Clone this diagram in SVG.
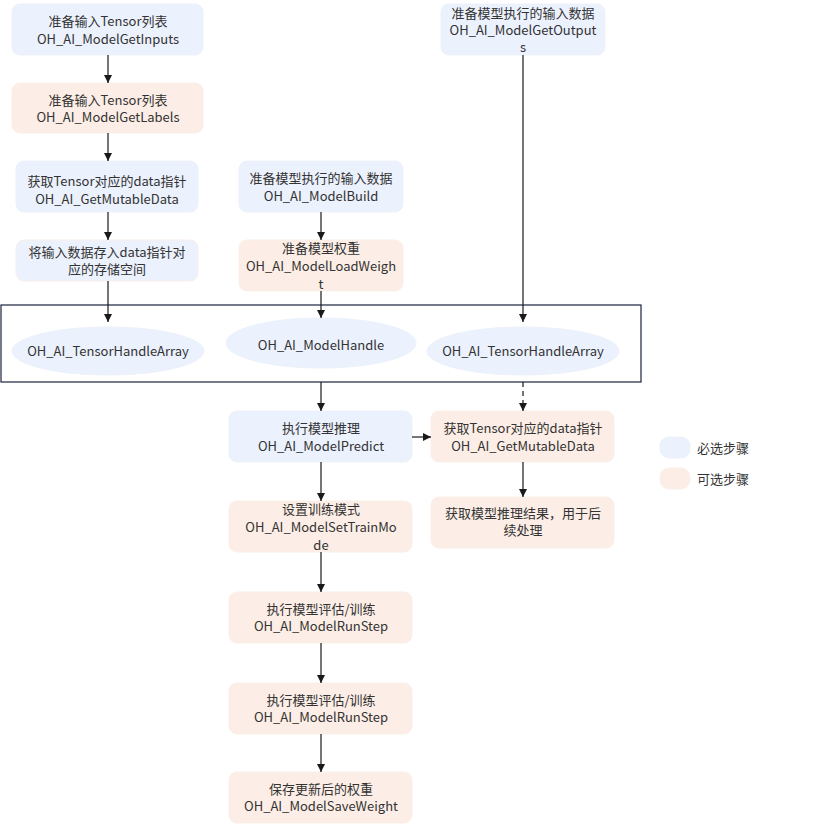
<svg xmlns="http://www.w3.org/2000/svg" width="816" height="824" viewBox="0 0 816 824">
<defs>
<marker id="ah" viewBox="0 0 10 10" refX="10" refY="5" markerWidth="8" markerHeight="8" markerUnits="userSpaceOnUse" orient="auto">
<path d="M0,0 L10,5 L0,10 z" fill="#1a1a1a"/>
</marker>
<style>
.req{fill:#EBF1FD;stroke:#EDF1FA;stroke-width:1}
.opt{fill:#FCEEE6;stroke:#FBEFE8;stroke-width:1}
.t{font-family:"Noto Sans CJK SC","Noto Sans",sans-serif;font-size:13px;fill:#333;text-anchor:middle}
.lt{font-family:"Noto Sans CJK SC","Noto Sans",sans-serif;font-size:13px;fill:#333}
.c{stroke:#1a1a1a;stroke-width:1.2;fill:none}
</style>
</defs>
<rect width="816" height="824" fill="#fff"/>
<g id="container"><rect x="1" y="305" width="640" height="77" fill="none" stroke="#1c2340" stroke-width="1.2"/></g>
<g id="n1"><rect class="req" x="12" y="4" width="191" height="51" rx="8"/><text class="t" x="108" y="26">准备输入Tensor列表</text><text class="t" x="108" y="44">OH_AI_ModelGetInputs</text></g>
<g id="n2"><rect class="opt" x="12" y="83" width="191" height="50" rx="8"/><text class="t" x="108" y="105">准备输入Tensor列表</text><text class="t" x="108" y="122">OH_AI_ModelGetLabels</text></g>
<g id="n3"><rect class="req" x="16" y="161" width="182" height="51" rx="8"/><text class="t" x="107" y="186">获取Tensor对应的data指针</text><text class="t" x="107" y="204">OH_AI_GetMutableData</text></g>
<g id="n4"><rect class="req" x="16" y="240" width="182" height="41" rx="8" style="stroke:#FBEFE8"/><text class="t" x="107" y="257">将输入数据存入data指针对</text><text class="t" x="107" y="274">应的存储空间</text></g>
<g id="n5"><rect class="req" x="239" y="161" width="164" height="51" rx="8"/><text class="t" x="321" y="183">准备模型执行的输入数据</text><text class="t" x="321" y="201">OH_AI_ModelBuild</text></g>
<g id="n6"><rect class="opt" x="239" y="240" width="164" height="51" rx="8"/><text class="t" x="321" y="253">准备模型权重</text><text class="t" x="321" y="271">OH_AI_ModelLoadWeigh</text><text class="t" x="321" y="289">t</text></g>
<g id="n7"><rect class="req" x="441" y="4" width="164" height="51" rx="8"/><text class="t" x="523" y="18">准备模型执行的输入数据</text><text class="t" x="523" y="35">OH_AI_ModelGetOutput</text><text class="t" x="523" y="52">s</text></g>
<g id="e1"><ellipse class="req" cx="108" cy="351" rx="96" ry="24"/><text class="t" x="108" y="356">OH_AI_TensorHandleArray</text></g>
<g id="e2"><ellipse class="req" cx="321" cy="343" rx="95" ry="25"/><text class="t" x="321" y="350">OH_AI_ModelHandle</text></g>
<g id="e3"><ellipse class="req" cx="523" cy="351" rx="96" ry="24"/><text class="t" x="523" y="356">OH_AI_TensorHandleArray</text></g>
<g id="n8"><rect class="req" x="229" y="411" width="183" height="51" rx="8"/><text class="t" x="321" y="433">执行模型推理</text><text class="t" x="321" y="451">OH_AI_ModelPredict</text></g>
<g id="n9"><rect class="opt" x="431" y="411" width="183" height="51" rx="8"/><text class="t" x="523" y="433">获取Tensor对应的data指针</text><text class="t" x="523" y="451">OH_AI_GetMutableData</text></g>
<g id="n10"><rect class="opt" x="431" y="497" width="183" height="51" rx="8"/><text class="t" x="523" y="518">获取模型推理结果，用于后</text><text class="t" x="523" y="535">续处理</text></g>
<g id="n11"><rect class="opt" x="229" y="501" width="183" height="51" rx="8"/><text class="t" x="321" y="514">设置训练模式</text><text class="t" x="321" y="532">OH_AI_ModelSetTrainMo</text><text class="t" x="321" y="550">de</text></g>
<g id="n12"><rect class="opt" x="229" y="592" width="183" height="51" rx="8"/><text class="t" x="321" y="614">执行模型评估/训练</text><text class="t" x="321" y="631">OH_AI_ModelRunStep</text></g>
<g id="n13"><rect class="opt" x="229" y="683" width="183" height="51" rx="8"/><text class="t" x="321" y="705">执行模型评估/训练</text><text class="t" x="321" y="722">OH_AI_ModelRunStep</text></g>
<g id="n14"><rect class="opt" x="229" y="772" width="183" height="51" rx="8"/><text class="t" x="321" y="794">保存更新后的权重</text><text class="t" x="321" y="811">OH_AI_ModelSaveWeight</text></g>
<g id="legend">
<rect class="req" x="660" y="437" width="30" height="21" rx="9"/><text class="lt" x="697" y="453">必选步骤</text>
<rect class="opt" x="660" y="468" width="30" height="21" rx="9"/><text class="lt" x="697" y="484">可选步骤</text>
</g>
<g id="connectors">
<line class="c" x1="108" y1="55" x2="108" y2="83" marker-end="url(#ah)"/>
<line class="c" x1="108" y1="133" x2="108" y2="161" marker-end="url(#ah)"/>
<line class="c" x1="108" y1="212" x2="108" y2="240" marker-end="url(#ah)"/>
<line class="c" x1="108" y1="281" x2="108" y2="322" marker-end="url(#ah)"/>
<line class="c" x1="321" y1="212" x2="321" y2="240" marker-end="url(#ah)"/>
<line class="c" x1="321" y1="291" x2="321" y2="318" marker-end="url(#ah)"/>
<line class="c" x1="523" y1="55" x2="523" y2="322" marker-end="url(#ah)"/>
<line class="c" x1="321" y1="382" x2="321" y2="411" marker-end="url(#ah)"/>
<line class="c" x1="523" y1="382" x2="523" y2="411" stroke-dasharray="5,4" marker-end="url(#ah)"/>
<line class="c" x1="412" y1="437" x2="431" y2="437" marker-end="url(#ah)"/>
<line class="c" x1="523" y1="462" x2="523" y2="497" marker-end="url(#ah)"/>
<line class="c" x1="321" y1="462" x2="321" y2="501" marker-end="url(#ah)"/>
<line class="c" x1="321" y1="552" x2="321" y2="592" marker-end="url(#ah)"/>
<line class="c" x1="321" y1="643" x2="321" y2="683" marker-end="url(#ah)"/>
<line class="c" x1="321" y1="734" x2="321" y2="772" marker-end="url(#ah)"/>
</g>
</svg>
